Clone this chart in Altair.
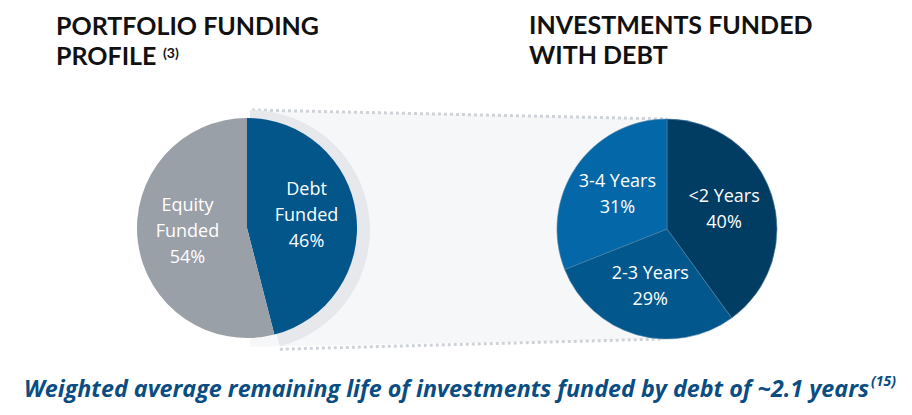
import altair as alt
import pandas as pd
import math

# ---------------- data ----------------
funding_cats = ["Debt Funded", "Equity Funded"]
funding_vals = [46, 54]
funding_colors = ["#02568a", "#9aa0a8"]

debt_cats = ["<2 Years", "2-3 Years", "3-4 Years"]
debt_vals = [40, 29, 31]
debt_colors = ["#013c62", "#02578c", "#0468a8"]

title_left = "PORTFOLIO FUNDING\nPROFILE"
sup_left = "(3)"
title_right = "INVESTMENTS FUNDED\nWITH DEBT"
footnote = "Weighted average remaining life of investments funded by debt of ~2.1 years"
sup_foot = "(15)"

# ---------------- layout ----------------
W, H, OFF = 896, 399, 8
LCX, LCY, R = 247, 228, 110          # left pie
SCX, SCY, SR = 250, 230, 120         # shadow behind debt slice
RCX, RCY = 667, 229                  # right pie
LABEL_R = 60
LINE_H = 26

fund_df = pd.DataFrame({
    "cat": funding_cats, "value": funding_vals, "idx": range(len(funding_cats)),
    "col": funding_colors,
})
fund_df["label"] = [c.replace(" ", "\n") + f"\n{v}%" for c, v in zip(funding_cats, funding_vals)]

debt_df = pd.DataFrame({
    "cat": debt_cats, "value": debt_vals, "idx": range(len(debt_cats)),
    "col": debt_colors,
})
debt_df["label"] = [f"{c}\n{v}%" for c, v in zip(debt_cats, debt_vals)]

xs = alt.Scale(domain=[OFF, OFF + W], nice=False, zero=False)
ys = alt.Scale(domain=[OFF, OFF + H], nice=False, zero=False, reverse=True)
ts = alt.Scale(domain=[0, 100])

def X(v):
    return alt.X(datum=v, scale=xs, axis=None)

def Y(v):
    return alt.Y(datum=v, scale=ys, axis=None)

one = pd.DataFrame({"a": [0]})

# connector geometry derived from the pie geometry
end_ang = 2 * math.pi * funding_vals[0] / 100
top_left = (SCX, SCY - SR)
bot_left = (SCX + SR * math.sin(end_ang), SCY - SR * math.cos(end_ang))
top_right = (RCX, RCY - R)
bot_right = (RCX - 4, RCY + R)

conn_df = pd.DataFrame({
    "x": [top_left[0], top_right[0]],
    "ytop": [top_left[1], top_right[1]],
    "ybot": [bot_left[1] + (bot_left[1] - bot_right[1]) * (bot_left[0] - top_left[0]) / (bot_right[0] - bot_left[0]),
             bot_right[1]],
})
conn = alt.Chart(conn_df).mark_area(color="#f6f7f8").encode(
    x=alt.X("x:Q", scale=xs, axis=None),
    y=alt.Y("ytop:Q", scale=ys, axis=None),
    y2="ybot:Q",
)

dots_df = pd.DataFrame({
    "x": [top_left[0] + 2, top_right[0], bot_left[0], bot_right[0]],
    "y": [top_left[1], top_right[1], bot_left[1] + 3, bot_right[1]],
    "seg": ["top", "top", "bot", "bot"],
})
dots = alt.Chart(dots_df).mark_line(color="#cfd3d8", strokeWidth=3, strokeDash=[3, 3]).encode(
    x=alt.X("x:Q", scale=xs, axis=None),
    y=alt.Y("y:Q", scale=ys, axis=None),
    detail="seg:N",
)

shadow = alt.Chart(fund_df).transform_stack(
    stack="value", groupby=[], as_=["t0", "t1"], sort=[alt.SortField("idx")]
).transform_filter("datum.idx == 0").mark_arc(radius=SR, color="#e7e8eb").encode(
    x=X(SCX), y=Y(SCY),
    theta=alt.Theta("t0:Q", scale=ts), theta2="t1:Q",
)

def pie(df, cx, cy, **kw):
    return alt.Chart(df).mark_arc(radius=R, **kw).encode(
        x=X(cx), y=Y(cy),
        theta=alt.Theta("value:Q", stack=True, scale=ts),
        order=alt.Order("idx:Q"),
        color=alt.Color("col:N", scale=None),
    )

def labels(df, cx, cy, nlines, extra_dy=0):
    return alt.Chart(df).mark_text(
        radius=LABEL_R, lineBreak="\n", lineHeight=LINE_H, font="Open Sans", fontSize=18,
        color="white", align="center", baseline="middle",
        dy=-(nlines - 1) * LINE_H / 2 + extra_dy,
    ).encode(
        x=X(cx), y=Y(cy),
        theta=alt.Theta("value:Q", stack=True, scale=ts),
        order=alt.Order("idx:Q"),
        text="label:N",
    )

left_pie = pie(fund_df, LCX, LCY)
right_pie = pie(debt_df, RCX, RCY, stroke="#4f7fa6", strokeWidth=0.6)

def txt(s, x, y, **kw):
    return alt.Chart(one).mark_text(text=s, **kw).encode(x=X(x), y=Y(y))

title_style = dict(font="Lato", fontWeight="bold", fontSize=25, color="#111111",
                   align="left", baseline="alphabetic", lineBreak="\n", lineHeight=30)

t1 = txt(title_left, 56, 35, **title_style)
t1s = txt(sup_left, 163, 58, font="Lato", fontWeight="bold", fontSize=14,
          color="#111111", align="left", baseline="alphabetic")
t2 = txt(title_right, 529, 34, **title_style)
foot = txt(footnote, 869, 397, font="Open Sans", fontWeight="bold", fontStyle="italic",
           fontSize=23.3, color="#0a4d82", align="right", baseline="alphabetic")
foot_s = txt(sup_foot, 871, 386, font="Open Sans", fontWeight="bold", fontStyle="italic",
             fontSize=14, color="#0a4d82", align="left", baseline="alphabetic")

chart = alt.layer(
    conn, dots, shadow, left_pie, right_pie,
    labels(fund_df, LCX, LCY, 3, -4), labels(debt_df, RCX, RCY, 2),
    t1, t1s, t2, foot, foot_s,
).properties(
    width=W, height=H, padding=0, autosize="none", background="white"
).configure_view(stroke=None)

chart.save("out.html", embed_options={"renderer": "svg", "actions": False})
